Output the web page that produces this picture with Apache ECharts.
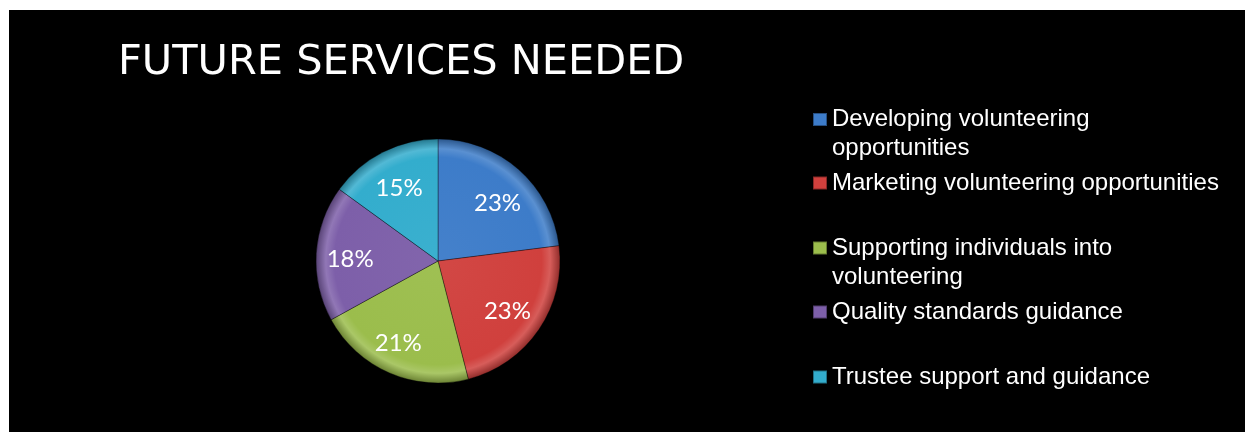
<!DOCTYPE html>
<html>
<head>
<meta charset="utf-8">
<script src="https://cdn.jsdelivr.net/npm/echarts@6/dist/echarts.min.js"></script>
<style>
html,body{margin:0;padding:0;background:#fff;width:1245px;height:432px;overflow:hidden;}
#chart{position:absolute;left:9px;top:10px;width:1236px;height:422px;background:#000;}
</style>
</head>
<body>
<div id="chart"></div>
<script>
var titleText = 'FUTURE SERVICES NEEDED';
var categories = [
  'Developing volunteering opportunities',
  'Marketing volunteering opportunities',
  'Supporting individuals into volunteering',
  'Quality standards guidance',
  'Trustee support and guidance'
];
var legendLabels = [
  'Developing volunteering\nopportunities',
  'Marketing volunteering opportunities',
  'Supporting individuals into\nvolunteering',
  'Quality standards guidance',
  'Trustee support and guidance'
];
var values = [23, 23, 21, 18, 15];
var colors = ['#3d7cc9', '#d0403d', '#9bbd4c', '#7d5fa9', '#33adcd'];
var labelOffsets = [[0, 10], [-5, 0], [-4, 0], [2, 4], [2, 7]];

var cx = 429, cy = 251, R = 122;
function shade(hex, f) {
  var n = parseInt(hex.slice(1), 16);
  var r = (n >> 16) & 255, g = (n >> 8) & 255, b = n & 255;
  function c(v){ v = f < 0 ? v * (1 + f) : v + (255 - v) * f; return Math.max(0, Math.min(255, Math.round(v))); }
  return 'rgb(' + c(r) + ',' + c(g) + ',' + c(b) + ')';
}
function grad(hex) {
  return {
    type: 'radial', x: cx, y: cy, r: R, global: true,
    colorStops: [
      {offset: 0, color: shade(hex, 0.04)},
      {offset: 0.85, color: hex},
      {offset: 0.92, color: shade(hex, 0.15)},
      {offset: 1, color: shade(hex, -0.3)}
    ]
  };
}

var pieData = categories.map(function (c, i) {
  return {name: c, value: values[i], itemStyle: {color: grad(colors[i])}};
});
var labelData = categories.map(function (c, i) {
  return {name: c, value: values[i], label: {offset: labelOffsets[i]}};
});

var legendTops = [109.5, 173, 238, 302, 367];
var legends = categories.map(function (c, i) {
  var twoLine = legendLabels[i].indexOf('\n') >= 0;
  return {
    orient: 'vertical',
    left: 798,
    top: (twoLine ? legendTops[i] - 43.5 : legendTops[i] - 14.5) - 5,
    data: [{name: c, icon: 'rect', itemStyle: {color: colors[i]}}],
    itemWidth: 14, itemHeight: 13,
    selectedMode: false,
    formatter: function () { return twoLine ? '\n' + legendLabels[i] : legendLabels[i]; },
    textStyle: {color: '#fff', fontFamily: 'Liberation Sans', fontSize: 24, lineHeight: 29}
  };
});

var chart = echarts.init(document.getElementById('chart'), null, {renderer: 'canvas'});
chart.setOption({
  backgroundColor: '#000',
  animation: false,
  title: {
    text: titleText, left: 104, top: 27,
    textStyle: {color: '#fff', fontFamily: 'DejaVu Sans', fontWeight: 'normal', fontSize: 41.5}
  },
  legend: legends,
  series: [
    {
      type: 'pie', center: [cx, cy], radius: R, startAngle: 90, clockwise: true,
      silent: true, label: {show: false}, labelLine: {show: false},
      itemStyle: {borderColor: 'rgba(0,0,0,0.35)', borderWidth: 1},
      data: pieData
    },
    {
      type: 'pie', center: [cx, cy], radius: [52, R], startAngle: 90, clockwise: true,
      silent: true, percentPrecision: 0,
      itemStyle: {color: 'rgba(0,0,0,0)'},
      label: {show: true, position: 'inside', formatter: '{d}%', color: '#fff',
        fontFamily: 'Lato', fontSize: 24},
      labelLine: {show: false},
      data: labelData
    }
  ]
});
</script>
</body>
</html>
